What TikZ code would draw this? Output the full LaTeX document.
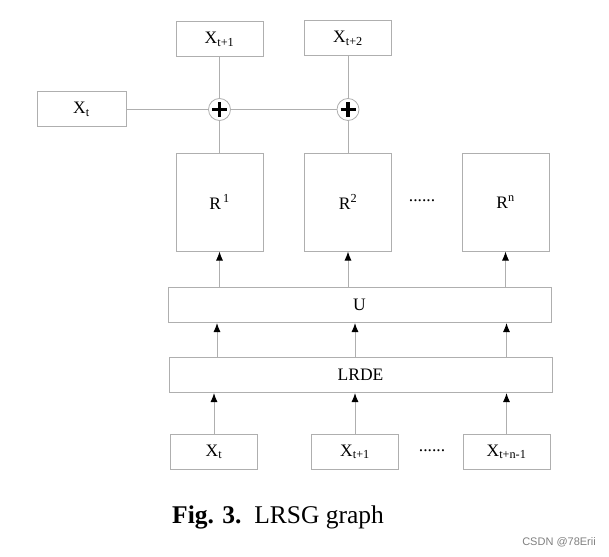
\documentclass[tikz,border=0pt]{standalone}
\usepackage{fontspec}
\setmainfont{Liberation Serif}
\setsansfont{Liberation Sans}
\usetikzlibrary{arrows.meta}
\definecolor{Lcolor}{RGB}{175, 175, 175}
\def\boxwidth{87}
\def\boxheight{35}
\def\rheight{98}
\def\barwidth{383}

\begin{document}
\begin{tikzpicture}[x=1pt, y=-1pt,
    box/.style={draw=Lcolor, line width=1pt, inner sep=0pt, font=\fontsize{17.5}{20}\selectfont},
    ln/.style={draw=Lcolor, line width=1pt},
    arr/.style={draw=Lcolor, line width=1pt, -{Latex[length=9pt, width=7pt, color=black]}},
    plus/.style={circle, draw=Lcolor, line width=0.8pt, minimum size=22pt, inner sep=0pt,
        path picture={
            \draw[line width=3.5pt, black] ([xshift=-7.5pt]path picture bounding box.center) -- ([xshift=7.5pt]path picture bounding box.center);
            \draw[line width=3.5pt, black] ([yshift=-7.5pt]path picture bounding box.center) -- ([yshift=7.5pt]path picture bounding box.center);
        }}]
    \useasboundingbox (0, 0) rectangle (609, 556);
    % outputs
    \node[box, minimum width=\boxwidth, minimum height=\boxheight] (xa) at (219.5, 39.5) {X\textsubscript{t+1}};
    \node[box, minimum width=\boxwidth, minimum height=\boxheight] (xb) at (348, 38.5) {X\textsubscript{t+2}};
    \node[box, minimum width=89, minimum height=\boxheight] (xt) at (81.5, 109.5) {X\textsubscript{t}};
    % adders
    \node[plus] (p1) at (219.5, 109.5) {};
    \node[plus] (p2) at (348, 109.5) {};
    \draw[ln] (xt) -- (p1);
    \draw[ln] (p1) -- (p2);
    \draw[ln] (xa) -- (p1);
    \draw[ln] (xb) -- (p2);
    % R blocks
    \node[box, minimum width=\boxwidth, minimum height=\rheight] (r1) at (219.5, 202) {R\textsuperscript{\,1}};
    \node[box, minimum width=\boxwidth, minimum height=\rheight] (r2) at (348, 202) {R\textsuperscript{2}};
    \node[box, minimum width=\boxwidth, minimum height=\rheight] (rn) at (505.5, 202) {R\textsuperscript{n}};
    \node[font=\fontsize{17.5}{20}\selectfont, inner sep=0pt, anchor=base] (rdots) at (422, 201) {......};
    \draw[ln] (p1) -- (r1);
    \draw[ln] (p2) -- (r2);
    % U and LRDE
    \node[box, minimum width=\barwidth, minimum height=\boxheight] (u) at (359.5, 305) {U};
    \node[box, minimum width=\barwidth, minimum height=\boxheight] (lrde) at (360.5, 375) {LRDE};
    \draw[arr] (u.north -| r1) -- (r1.south);
    \draw[arr] (u.north -| r2) -- (r2.south);
    \draw[arr] (u.north -| rn) -- (rn.south);
    % inputs
    \node[box, minimum width=\boxwidth, minimum height=\boxheight] (in1) at (214, 452) {X\textsubscript{t}};
    \node[box, minimum width=\boxwidth, minimum height=\boxheight] (in2) at (355, 452) {X\textsubscript{t+1}};
    \node[box, minimum width=\boxwidth, minimum height=\boxheight] (in3) at (506.5, 452) {X\textsubscript{t+n-1}};
    \node[font=\fontsize{17.5}{20}\selectfont, inner sep=0pt, anchor=base] (indots) at (432, 451) {......};
    \draw[arr] ([xshift=3pt]lrde.north -| in1) -- ([xshift=3pt]u.south -| in1);
    \draw[arr] (lrde.north -| in2) -- (u.south -| in2);
    \draw[arr] (lrde.north -| in3) -- (u.south -| in3);
    \draw[arr] (in1) -- (in1 |- lrde.south);
    \draw[arr] (in2) -- (in2 |- lrde.south);
    \draw[arr] (in3) -- (in3 |- lrde.south);
    % caption
    \node[anchor=base west, inner sep=0pt, font=\fontsize{25.5}{30}\selectfont] (caption) at (172, 523) {\textbf{Fig. 3.}\ \ LRSG graph};
    \node[anchor=base east, inner sep=0pt, text=gray, font=\sffamily\fontsize{11}{13}\selectfont] (mark) at (596, 545) {CSDN @78Erii};
\end{tikzpicture}
\end{document}
